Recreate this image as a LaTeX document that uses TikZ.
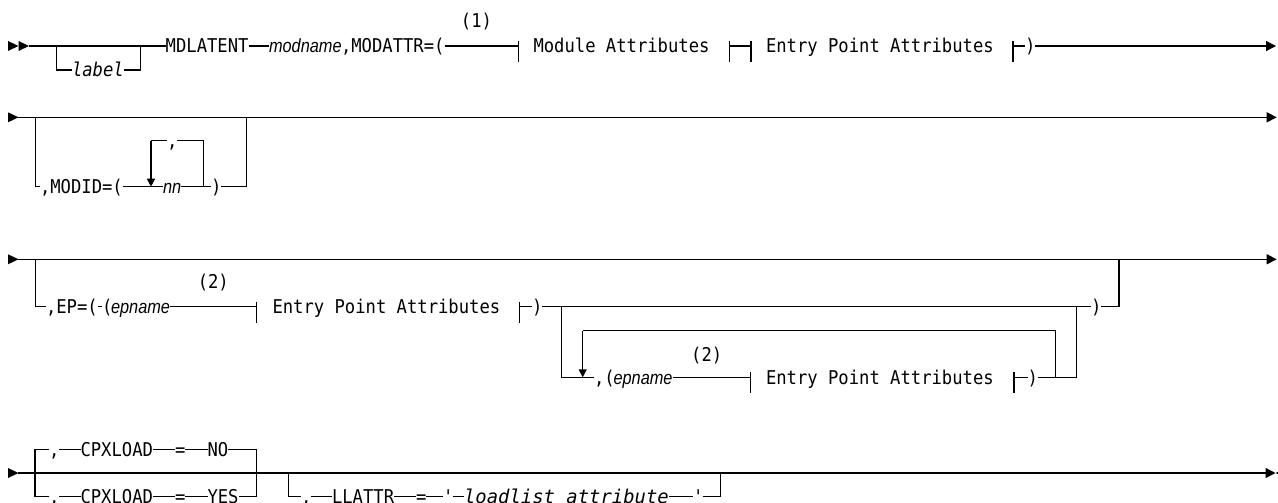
\documentclass[tikz,border=0pt]{standalone}
\usepackage{fontspec}
\usetikzlibrary{arrows.meta}
\newfontfamily\dgmono{DejaVu Sans Mono}[FakeStretch=0.905]
\newfontfamily\dgwide{DejaVu Sans Mono}[FakeStretch=0.995]
\newfontfamily\dgsans{Liberation Sans}[FakeStretch=0.86]
\newcommand\dgfs{\fontsize{19}{22}\selectfont}
\tikzset{
 tok/.style={inner sep=0pt, outer sep=0pt, anchor=base west, font=\dgfs\dgmono},
 note/.style={inner sep=0pt, outer sep=0pt, anchor=base, font=\dgfs\dgmono},
 mit/.style={inner sep=0pt, outer sep=0pt, anchor=base west, font=\dgfs\dgmono\itshape},
 wit/.style={inner sep=0pt, outer sep=0pt, anchor=base west, font=\dgfs\dgwide\itshape},
 sit/.style={inner sep=0pt, outer sep=0pt, anchor=base west, font=\dgfs\dgsans\itshape},
 rail/.style={line width=1.4pt},
 endarr/.style={rail, -{Triangle[length=10pt,width=10pt]}},
 downarr/.style={rail, -{Triangle[length=8pt,width=8pt]}},
 tick/.style={rail},
}
\begin{document}
\begin{tikzpicture}[x=1pt,y=-1pt]
\useasboundingbox (0,0) rectangle (1278,503);
\clip (0,0) rectangle (1278,503);
% ---------------- row 1 ----------------
\coordinate (y1) at (0,46);
\coordinate (y1b) at (0,70);
\coordinate (r1s) at (29,46);
\coordinate (r1e) at (1276,46);
\fill (8,41) -- (18.5,46) -- (8,51) -- cycle;
\fill (18.5,41) -- (29,46) -- (18.5,51) -- cycle;
\node[tok] (mdl) at (165.7,52.9) {MDLATENT};
\node[sit] (modn) at (269,52.9) {modname};
\node[tok] (modattr) at (341,52.9) {,MODATTR=(};
\node[note] (fn1) at (476.5,27.9) {(1)};
\node[tok] (modatt) at (533.5,52.9) {Module Attributes};
\node[tok] (epa1) at (766,52.9) {Entry Point Attributes};
\node[tok] (rp1) at (1025,52.9) {)};
\node[mit] (lab) at (72,76.9) {label};
\coordinate (t1a) at (518.5,46);
\coordinate (t1b) at (729.5,46);
\coordinate (t1c) at (751,46);
\coordinate (t1d) at (1013,46);
\coordinate (lb1) at (56.7,46);
\coordinate (lb2) at (140.7,46);
\draw[rail] (r1s) -- (mdl.west |- y1);
\draw[rail] (lb1) |- (lab.west |- y1b);
\draw[rail] (lab.east |- y1b) -| (lb2);
\draw[rail] (mdl.east |- y1) -- (modn.west |- y1);
\draw[rail] (modattr.east |- y1) -- (t1a);
\draw[rail] (t1b) -- (t1c);
\draw[rail] (t1d) -- (rp1.west |- y1);
\foreach \t in {t1a,t1b,t1c,t1d} \draw[tick] ([yshift=5pt]\t) -- ([yshift=-16pt]\t);
\draw[endarr] (rp1.east |- y1) -- (r1e);
% ---------------- row 2 ----------------
\coordinate (y2) at (0,117.3);
\coordinate (y2b) at (0,186.7);
\coordinate (r2s) at (18,117.3);
\coordinate (r2e) at (1276.7,117.3);
\fill (8,112.3) -- (18.5,117.3) -- (8,122.3) -- cycle;
\draw[endarr] (r2s) -- (r2e);
\node[tok] (modid) at (40,193.6) {,MODID=(};
\node[sit] (nn) at (163,193.6) {nn};
\node[tok] (rp2) at (211,193.6) {)};
\node[tok] (cm2) at (167,147.6) {,};
\coordinate (b2l) at (35.7,117.3);
\coordinate (b2r) at (246.7,117.3);
\coordinate (lp2l) at (151,140.7);
\coordinate (lp2r) at (203.3,140.7);
\draw[rail] (b2l) |- (modid.west |- y2b);
\draw[rail] (modid.east |- y2b) -- (nn.west |- y2b);
\draw[rail] (nn.east |- y2b) -- (rp2.west |- y2b);
\draw[rail] (rp2.east |- y2b) -| (b2r);
\draw[rail] (lp2r |- y2b) -- (lp2r) -- (cm2.east |- lp2r);
\draw[rail] (cm2.west |- lp2l) -- (lp2l);
\draw[downarr] (lp2l) -- (lp2l |- y2b);
% ---------------- row 3 ----------------
\coordinate (y3) at (0,259.3);
\coordinate (y3b) at (0,306.7);
\coordinate (y3c) at (0,377.3);
\coordinate (r3s) at (18,259.3);
\coordinate (r3e) at (1276.7,259.3);
\fill (8,254.3) -- (18.5,259.3) -- (8,264.3) -- cycle;
\draw[endarr] (r3s) -- (r3e);
\coordinate (b3l) at (35.7,259.3);
\coordinate (b3r) at (1119,259.3);
\node[tok] (epeq) at (46,313.6) {,EP=(};
\node[tok] (lp3) at (102,313.6) {(};
\node[sit] (epn1) at (111,313.6) {epname};
\node[note] (fn2a) at (213.3,288.6) {(2)};
\coordinate (t3a) at (256.7,306.7);
\node[tok] (epa2) at (272.5,313.6) {Entry Point Attributes};
\coordinate (t3b) at (519.3,306.7);
\node[tok] (rp3) at (532,313.6) {)};
\coordinate (j3l) at (561.7,306.7);
\coordinate (j3r) at (1076.7,306.7);
\node[tok] (rp4) at (1091,313.6) {)};
\node[tok] (cp3) at (594,384.2) {,(};
\node[sit] (epn2) at (613.5,384.2) {epname};
\node[note] (fn2b) at (706.7,361.9) {(2)};
\coordinate (t3c) at (750.7,377.3);
\node[tok] (epa3) at (766,384.2) {Entry Point Attributes};
\coordinate (t3d) at (1014,377.3);
\node[tok] (rp5) at (1027.5,384.2) {)};
\coordinate (lp3l) at (582.7,330.7);
\coordinate (lp3r) at (1055.7,330.7);
\draw[rail] (b3l) |- (epeq.west |- y3b);
\draw[rail] (epeq.east |- y3b) -- (lp3.west |- y3b);
\draw[rail] (epn1.east |- y3b) -- (t3a);
\draw[rail] (t3b) -- (rp3.west |- y3b);
\draw[rail] (rp3.east |- y3b) -- (rp4.west |- y3b);
\draw[rail] (rp4.east |- y3b) -| (b3r);
\draw[rail] (j3l) |- (cp3.west |- y3c);
\draw[rail] (epn2.east |- y3c) -- (t3c);
\draw[rail] (t3d) -- (rp5.west |- y3c);
\draw[rail] (rp5.east |- y3c) -| (j3r);
\draw[rail] (lp3r |- y3c) -- (lp3r) -- (lp3l);
\draw[downarr] (lp3l) -- (lp3l |- y3c);
\foreach \t in {t3a,t3b,t3c,t3d} \draw[tick] ([yshift=5pt]\t) -- ([yshift=-16pt]\t);
% ---------------- row 4 ----------------
\coordinate (y4) at (0,473);
\coordinate (y4n) at (0,449.7);
\coordinate (y4y) at (0,496.5);
\coordinate (r4s) at (18,473);
\coordinate (r4e) at (1275.5,473);
\fill (8,468) -- (18.5,473) -- (8,478) -- cycle;
\draw[endarr] (r4s) -- (r4e);
\fill (1275.5,473) -- (1286,468) -- (1286,478) -- cycle;
\node[tok] (c4a) at (49,456.6) {,};
\node[tok] (cpx1) at (80.5,456.6) {CPXLOAD};
\node[tok] (eq4a) at (175,456.6) {=};
\node[tok] (no) at (207.5,456.6) {NO};
\node[tok] (c4b) at (49,503.4) {,};
\node[tok] (cpx2) at (80.5,503.4) {CPXLOAD};
\node[tok] (eq4b) at (175,503.4) {=};
\node[tok] (yes) at (207.5,503.4) {YES};
\coordinate (v4a) at (35,449.7);
\coordinate (v4b) at (35,496.5);
\coordinate (v4c) at (256.7,449.7);
\coordinate (v4d) at (256.7,496.5);
\draw[rail] (c4a.west |- y4n) -- (v4a) -- (v4b) -- (c4b.west |- y4y);
\draw[rail] (c4a.east |- y4n) -- (cpx1.west |- y4n);
\draw[rail] (cpx1.east |- y4n) -- (eq4a.west |- y4n);
\draw[rail] (eq4a.east |- y4n) -- (no.west |- y4n);
\draw[rail] (c4b.east |- y4y) -- (cpx2.west |- y4y);
\draw[rail] (cpx2.east |- y4y) -- (eq4b.west |- y4y);
\draw[rail] (eq4b.east |- y4y) -- (yes.west |- y4y);
\draw[rail] (no.east |- y4n) -- (v4c) -- (v4d) -- (yes.east |- y4y);
\coordinate (v4e) at (288.3,473);
\coordinate (v4f) at (288.3,496.5);
\coordinate (v4g) at (720.2,496.5);
\coordinate (v4h) at (720.2,473);
\node[tok] (c4c) at (301,503.4) {,};
\node[tok] (ll) at (332,503.4) {LLATTR};
\node[tok] (eq4c) at (416,503.4) {=};
\node[tok] (q1) at (443,503.4) {'};
\node[wit] (lla) at (464,503.4) {loadlist attribute};
\node[tok] (q2) at (693,503.4) {'};
\draw[rail] (v4e) -- (v4f) -- (c4c.west |- y4y);
\draw[rail] (c4c.east |- y4y) -- (ll.west |- y4y);
\draw[rail] (ll.east |- y4y) -- (eq4c.west |- y4y);
\draw[rail] (eq4c.east |- y4y) -- (q1.west |- y4y);
\draw[rail] (q1.east |- y4y) -- (lla.west |- y4y);
\draw[rail] (lla.east |- y4y) -- (q2.west |- y4y);
\draw[rail] (q2.east |- y4y) -- (v4g) -- (v4h);
\end{tikzpicture}
\end{document}
